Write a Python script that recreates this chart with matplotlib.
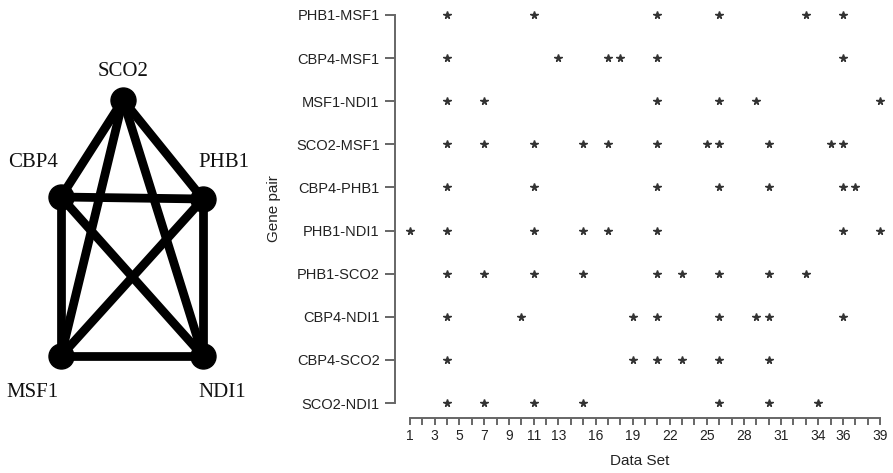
import numpy as np
from matplotlib import pyplot as plt

"DATA"
genes = ['SCO2', 'CBP4', 'PHB1', 'MSF1', 'NDI1']
# gene pairs, bottom row first
pairs = ['SCO2-NDI1', 'CBP4-SCO2', 'CBP4-NDI1', 'PHB1-SCO2', 'PHB1-NDI1',
         'CBP4-PHB1', 'SCO2-MSF1', 'MSF1-NDI1', 'CBP4-MSF1', 'PHB1-MSF1']
data_sets = [
    [4, 7, 11, 15, 26, 30, 34],
    [4, 19, 21, 23, 26, 30],
    [4, 10, 19, 21, 26, 29, 30, 36],
    [4, 7, 11, 15, 21, 23, 26, 30, 33],
    [1, 4, 11, 15, 17, 21, 36, 39],
    [4, 11, 21, 26, 30, 36, 37],
    [4, 7, 11, 15, 17, 21, 25, 26, 30, 35, 36],
    [4, 7, 21, 26, 29, 39],
    [4, 13, 17, 18, 21, 36],
    [4, 11, 21, 26, 33, 36],
]
x_ticks = list(range(1, 40))
x_labels = [1, 3, 5, 7, 9, 11, 13, 16, 19, 22, 25, 28, 31, 34, 36, 39]

"NETWORK LAYOUT (pixels)"
node_xy = {'SCO2': (123, 100), 'CBP4': (61, 197), 'PHB1': (203, 199),
           'MSF1': (61, 356), 'NDI1': (203, 356)}
label_xy = {'SCO2': (123, 72), 'CBP4': (33, 162), 'PHB1': (224, 162),
            'MSF1': (32, 392), 'NDI1': (222, 392)}

W, H = 893, 473
fig = plt.figure(figsize=(W / 100, H / 100), dpi=100)

"LEFT: gene network"
ax_n = fig.add_axes([0, 0, 1, 1])
ax_n.set_xlim(0, W)
ax_n.set_ylim(H, 0)
ax_n.axis('off')
for p in pairs:
    a, b = p.split('-')
    (x0, y0), (x1, y1) = node_xy[a], node_xy[b]
    ax_n.plot([x0, x1], [y0, y1], color='k', lw=6.3, solid_capstyle='round', zorder=1)
for g in genes:
    ax_n.plot(*node_xy[g], 'o', color='k', ms=18, zorder=2)
    ax_n.text(*label_xy[g], g, ha='center', va='center', fontsize=15,
              family='Liberation Serif', color='#111111')

"RIGHT: data set scatter"
L, R, B, T = 395, 893, 418, 5
ax = fig.add_axes([L / W, (H - B) / H, (R - L) / W, (B - T) / H])
ax.patch.set_alpha(0)
unit = (880 - 410) / 38.0
ax.set_xlim(1 - (410 - L) / unit, 39 + (R - 880) / unit)
row = (403 - 15) / 9.0
ax.set_ylim(-(B - 403) / row, 9 + (15 - T) / row)

for i, vals in enumerate(data_sets):
    ax.plot(vals, [i] * len(vals), linestyle='none', marker='*', ms=5.5,
            color='#333333', clip_on=False)

for s in ['top', 'right']:
    ax.spines[s].set_visible(False)
ax.spines['left'].set_bounds(0, 9)
ax.spines['bottom'].set_bounds(1, 39)
for s in ['left', 'bottom']:
    ax.spines[s].set_color('#666666')
    ax.spines[s].set_linewidth(1.4)

ax.set_yticks(range(len(pairs)))
ax.set_yticklabels(pairs, fontsize=10.5, family='Liberation Sans', color='#222222')
ax.set_xticks(x_ticks)
ax.set_xticklabels([str(v) if v in x_labels else '' for v in x_ticks],
                   fontsize=10, family='Liberation Sans', color='#222222')
ax.tick_params(axis='y', length=7, width=1.4, color='#666666', pad=4)
ax.tick_params(axis='x', length=5, width=1.4, color='#666666', pad=3)

ax.set_ylabel('Gene pair', fontsize=11, family='Liberation Sans', color='#222222')
ax.yaxis.set_label_coords((281 - L) / (R - L), (B - 209) / (B - T))
ax.set_xlabel('Data Set', fontsize=11, family='Liberation Sans', color='#222222')
ax.xaxis.set_label_coords((640 - L) / (R - L), -(454 - B) / (B - T))

fig.savefig('out.png', dpi=100)
